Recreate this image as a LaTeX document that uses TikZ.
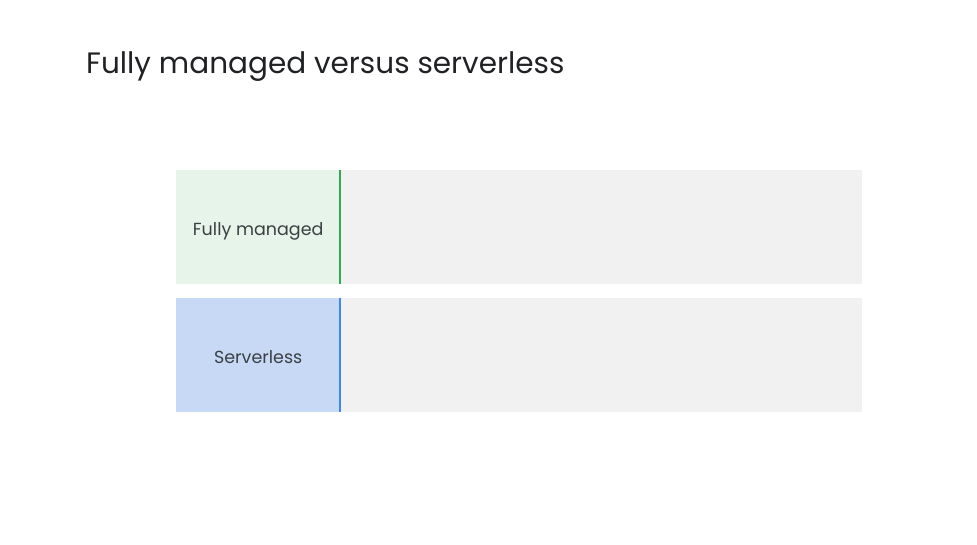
\documentclass[tikz,border=0pt]{standalone}
\usepackage{fontspec}
\setmainfont{Poppins}
\definecolor{titlec}{HTML}{202124}
\definecolor{labelc}{HTML}{3C4043}
\definecolor{greenfill}{HTML}{E6F4EA}
\definecolor{greenline}{HTML}{34A853}
\definecolor{bluefill}{HTML}{C8D9F6}
\definecolor{blueline}{HTML}{4285F4}
\definecolor{grayfill}{HTML}{F1F1F1}
\tikzset{
  labelbox/.style={minimum width=164pt, minimum height=114pt, inner sep=0pt, draw=none, anchor=north west},
  labeltext/.style={text=labelc, font=\fontsize{17.5}{21}\selectfont, inner sep=0pt, text height=13pt, text depth=0pt, anchor=center},
  graybox/.style={fill=grayfill, minimum width=521pt, minimum height=114pt, inner sep=0pt, draw=none, anchor=north west},
  divider/.style={line width=2pt},
}
\begin{document}
\begin{tikzpicture}[x=1pt,y=-1pt]
\useasboundingbox (0,0) rectangle (977,544);
\fill[white] (0,0) rectangle (977,544);
\node[anchor=base west, inner sep=0pt, text=titlec, font=\fontsize{29.5}{36}\selectfont] (title) at (86,73.5) {Fully managed versus serverless};
% top row
\node[graybox] (fmrow) at (341,170) {};
\node[labelbox, fill=greenfill] (fm) at (176,170) {};
\node[labeltext] (fmlabel) at ([yshift=-1.5pt]fm.center) {Fully managed};
\draw[divider, greenline] (fm.north east) -- (fm.south east);
% bottom row
\node[graybox] (slrow) at (341,298) {};
\node[labelbox, fill=bluefill] (sl) at (176,298) {};
\node[labeltext] (sllabel) at ([yshift=-1.5pt]sl.center) {Serverless};
\draw[divider, blueline] (sl.north east) -- (sl.south east);
\end{tikzpicture}
\end{document}
